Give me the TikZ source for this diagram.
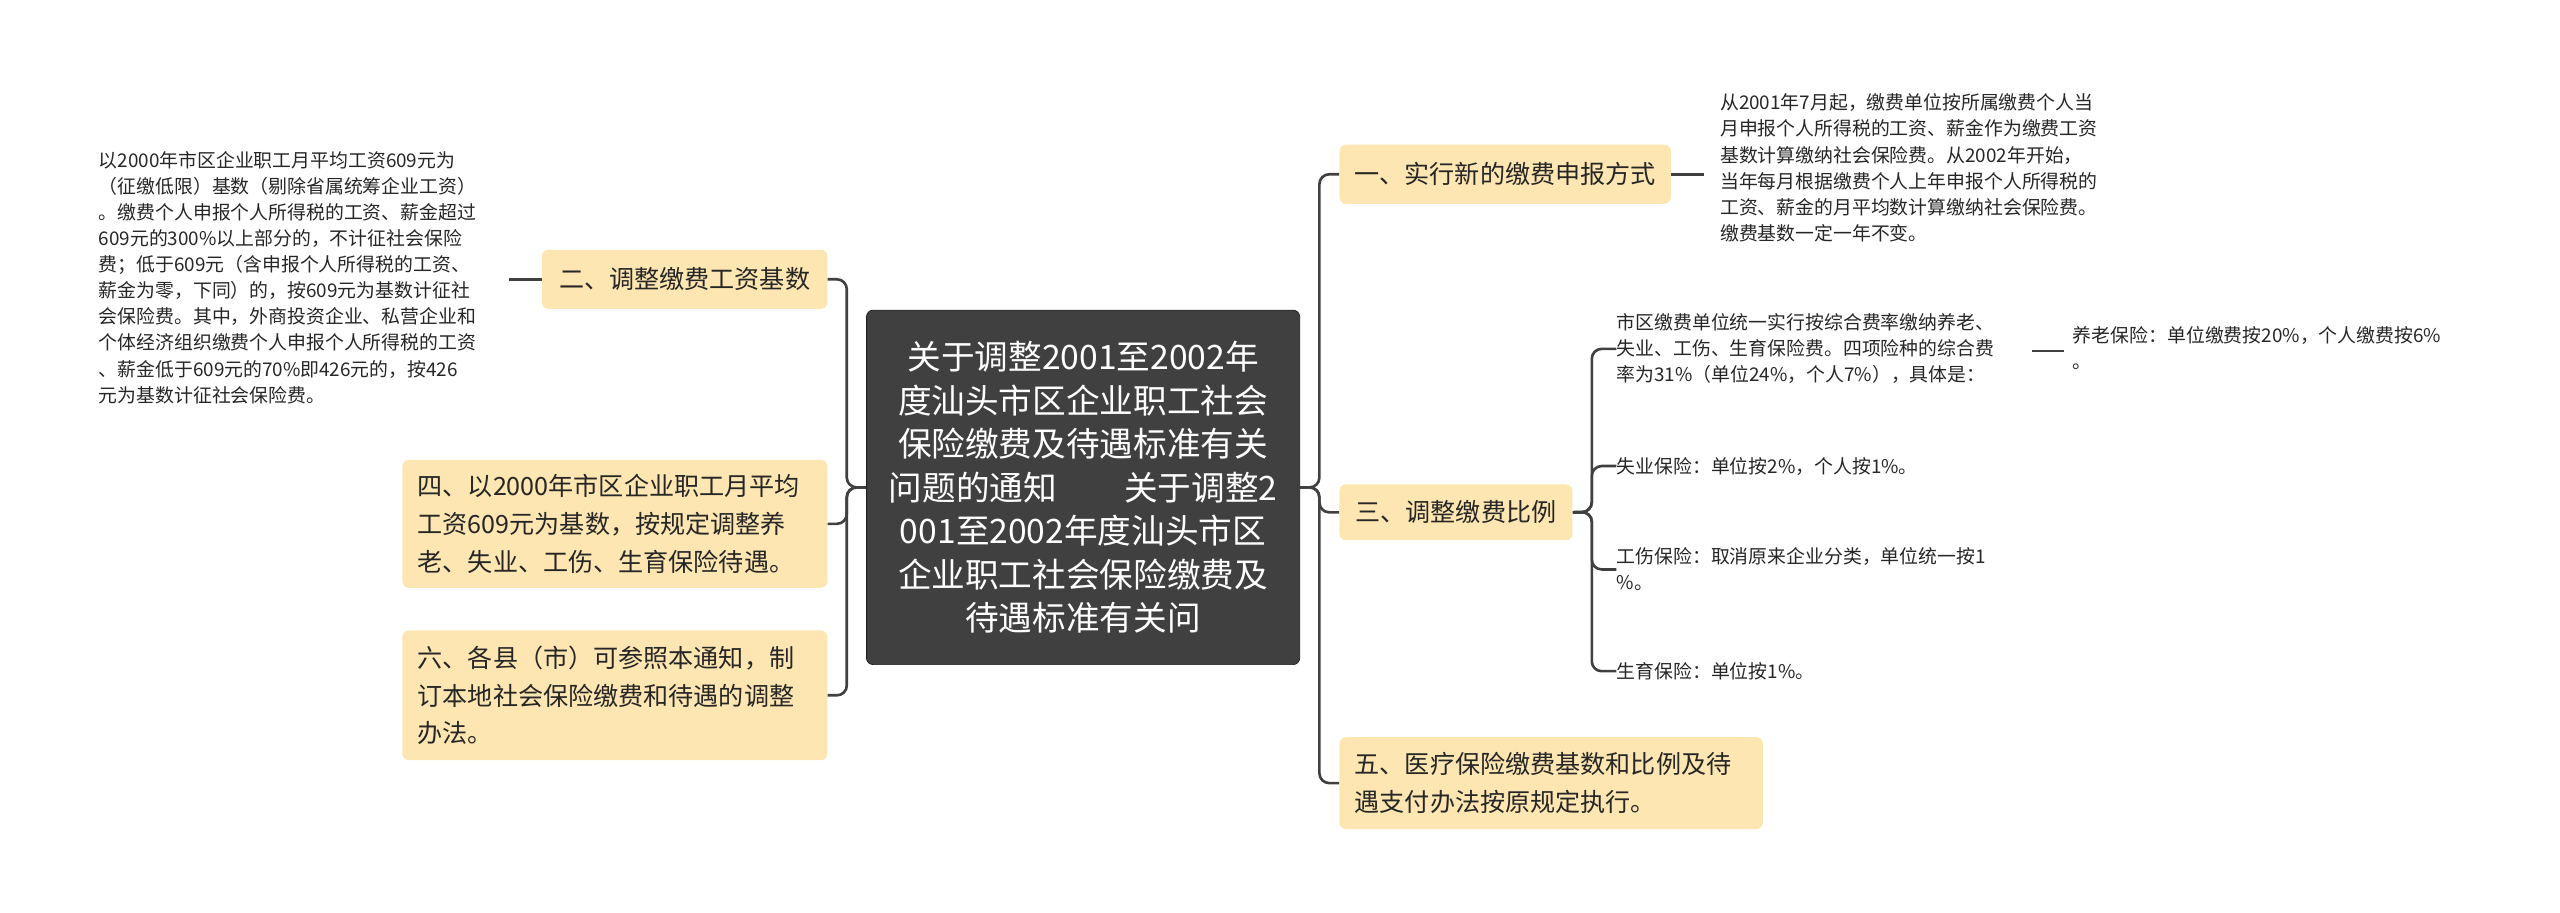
\documentclass[tikz,border=0pt]{standalone}
\usepackage{fontspec}
\setmainfont{Noto Sans CJK SC}
\begin{document}
\begin{tikzpicture}[x=1pt,y=-1pt,
  br/.style={fill=boxy,rounded corners=4pt,anchor=north west,align=left,inner sep=0pt},
  bt/.style={align=left,font=\fontsize{15.3}{23}\selectfont,text=black!85},
  sm/.style={anchor=north west,align=left,font=\fontsize{11.5}{15.9}\selectfont,inner sep=0pt,text=black!85},
  ln/.style={draw=black!75,line width=1.6pt,rounded corners=6pt}]
\definecolor{boxy}{HTML}{FDE6B1}
\useasboundingbox (0,0) rectangle (1560,556);
% center
\node[fill=black!75,draw=black!90,rounded corners=4pt,minimum width=264pt,minimum height=216pt,text=white,align=center,font=\fontsize{20.5}{26.5}\selectfont,inner sep=0pt] (c) at (660,297) {关于调整2001至2002年\\度汕头市区企业职工社会\\保险缴费及待遇标准有关\\问题的通知\quad\quad 关于调整2\\001至2002年度汕头市区\\企业职工社会保险缴费及\\待遇标准有关问};
% left boxes
\node[br,minimum width=174pt,minimum height=36pt] (b2) at (330,152) {};
\node[bt] (l2) at (b2.center) {二、调整缴费工资基数};
\node[br,minimum width=259pt,minimum height=78pt] (b4) at (245,280) {};
\node[bt,anchor=west] (l4) at ([xshift=6pt]b4.west) {四、以2000年市区企业职工月平均\\工资609元为基数，按规定调整养\\老、失业、工伤、生育保险待遇。};
\node[br,minimum width=259pt,minimum height=79pt] (b6) at (245,384) {};
\node[bt,anchor=west] (l6) at ([xshift=6pt]b6.west) {六、各县（市）可参照本通知，制\\订本地社会保险缴费和待遇的调整\\办法。};
% right boxes
\node[br,minimum width=202pt,minimum height=36pt] (b1) at (816,88) {};
\node[bt] (l1) at (b1.center) {一、实行新的缴费申报方式};
\node[br,minimum width=142pt,minimum height=34pt] (b3) at (816,295) {};
\node[bt] (l3) at (b3.center) {三、调整缴费比例};
\node[br,minimum width=258pt,minimum height=56pt] (b5) at (816,449) {};
\node[bt,anchor=west] (l5) at ([xshift=6pt]b5.west) {五、医疗保险缴费基数和比例及待\\遇支付办法按原规定执行。};
% texts
\node[sm] (t2) at (60,92) {以2000年市区企业职工月平均工资609元为\\（征缴低限）基数（剔除省属统筹企业工资）\\。缴费个人申报个人所得税的工资、薪金超过\\609元的300\%以上部分的，不计征社会保险\\费；低于609元（含申报个人所得税的工资、\\薪金为零，下同）的，按609元为基数计征社\\会保险费。其中，外商投资企业、私营企业和\\个体经济组织缴费个人申报个人所得税的工资\\、薪金低于609元的70\%即426元的，按426\\元为基数计征社会保险费。};
\node[sm] (t1) at (1048,57) {从2001年7月起，缴费单位按所属缴费个人当\\月申报个人所得税的工资、薪金作为缴费工资\\基数计算缴纳社会保险费。从2002年开始，\\当年每月根据缴费个人上年申报个人所得税的\\工资、薪金的月平均数计算缴纳社会保险费。\\缴费基数一定一年不变。};
\node[sm] (s1) at (985,191) {市区缴费单位统一实行按综合费率缴纳养老、\\失业、工伤、生育保险费。四项险种的综合费\\率为31\%（单位24\%，个人7\%），具体是：};
\node[sm] (s0) at (1263,199) {养老保险：单位缴费按20\%，个人缴费按6\%\\。};
\node[sm,anchor=west] (s2) at (985,284) {失业保险：单位按2\%，个人按1\%。};
\node[sm,anchor=west] (s3) at (985,347) {工伤保险：取消原来企业分类，单位统一按1\\\%。};
\node[sm,anchor=west] (s4) at (985,409) {生育保险：单位按1\%。};
% connectors
\coordinate (L) at (516,297);
\coordinate (R) at (804,297);
\coordinate (S) at (970,312);
\coordinate (f1) at (1238,214);
\coordinate (f2) at (1258,214);
\draw[ln] (c.west) -- (L) |- (b2.east);
\draw[ln] (c.west) -- (L) |- (b4.east);
\draw[ln] (c.west) -- (L) |- (b6.east);
\draw[ln] (c.east) -- (R) |- (b1.west);
\draw[ln] (c.east) -- (R) |- (b3.west);
\draw[ln] (c.east) -- (R) |- (b5.west);
\draw[ln] (b3.east) -- (S) |- (s1.west);
\draw[ln] (b3.east) -- (S) |- (s2.west);
\draw[ln] (b3.east) -- (S) |- (s3.west);
\draw[ln] (b3.east) -- (S) |- (s4.west);
\draw[ln] (b2.west) -- ++(-20,0) coordinate (e2);
\draw[ln] (b1.east) -- ++(20,0) coordinate (e1);
\draw[ln] (f1) -- (f2);
\end{tikzpicture}
\end{document}
